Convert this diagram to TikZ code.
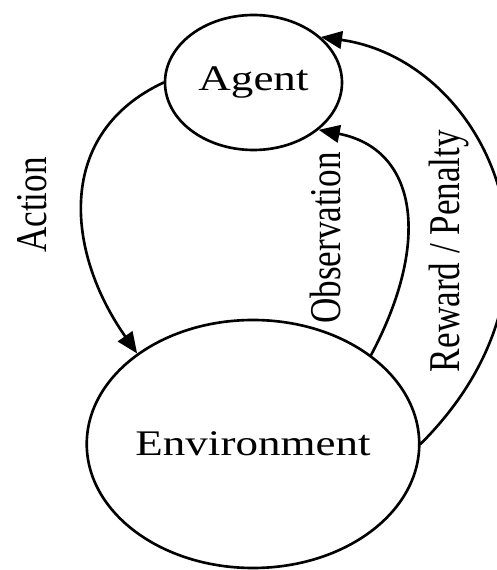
\documentclass[tikz,border=0pt]{standalone}
\usepackage{fontspec}
\setmainfont{Liberation Serif}
\usetikzlibrary{arrows.meta,shapes.geometric}
\newcommand{\wide}[1]{\scalebox{1.25}[1]{#1}}
\newcommand{\tall}[1]{\scalebox{1}[1.25]{#1}}
\tikzset{
  blob/.style={draw, ellipse, line width=1.5pt, inner sep=0pt, font=\fontsize{20.5}{24}\selectfont},
  flow/.style={line width=1.5pt, -{Triangle[length=12pt,width=10pt]}},
  sidelabel/.style={rotate=90, inner sep=0pt, font=\fontsize{20}{24}\selectfont},
}

\begin{document}
\begin{tikzpicture}[line cap=round,line join=round]
\useasboundingbox (0,0) rectangle (9.94,11.4);
% the two states
\node[blob, minimum width=3.54cm, minimum height=2.7cm] (agent) at (5.07,9.75) {\wide{Agent}};
\node[blob, minimum width=6.6cm, minimum height=4.96cm] (env) at (5.06,2.52) {\wide{Environment}};
% the loop
\draw[flow] (agent.west) to[out=205, in=125, out distance=2.4cm, in distance=2.5cm] (env.142);
\draw[flow] (env.37) to[out=62, in=-11, out distance=2.6cm, in distance=2.0cm] (agent.-36);
\draw[flow] (env.east) to[out=45, in=-8, out distance=4.8cm, in distance=3.3cm] (agent.34);
% labels
\node[sidelabel] (action) at (0.64,7.3) {\tall{Action}};
\node[sidelabel] (obs) at (6.5,6.64) {\tall{Observation}};
\node[sidelabel] (reward) at (8.98,6.38) {\tall{Reward / Penalty}};
\end{tikzpicture}
\end{document}
